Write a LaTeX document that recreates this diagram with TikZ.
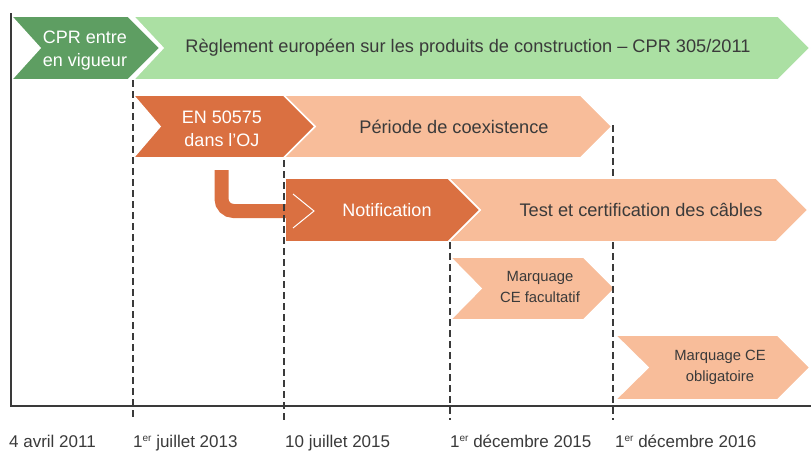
\documentclass[tikz,border=0pt]{standalone}
\usepackage{fontspec}
\setmainfont{Liberation Sans}
\definecolor{dgreen}{HTML}{5E9E62}
\definecolor{lgreen}{HTML}{ABE0A3}
\definecolor{dorange}{HTML}{DA7041}
\definecolor{lorange}{HTML}{F8BD9A}
\definecolor{ink}{HTML}{3A3A3A}
\newcommand\ordsup{\raisebox{0.32em}{\fontsize{10}{10}\selectfont er}}
\newcommand\chevron[6]{% xleft, xright(tip), ytop, ybottom, notch depth, fill
  \pgfmathsetmacro\cmid{(#3+#4)/2}%
  \pgfmathsetmacro\cd{(#4-#3)/2}%
  \fill[#6, draw=white, line width=1.6pt, line join=miter]
    (#1,#3) -- (#2-\cd,#3) -- (#2,\cmid) -- (#2-\cd,#4) -- (#1,#4) -- (#1+#5,\cmid) -- cycle;}
\begin{document}
\begin{tikzpicture}[x=1pt,y=-1pt,
  wlab/.style={text=white, align=center, font=\fontsize{18}{23}\selectfont},
  dlab/.style={text=ink, align=center, font=\fontsize{18.2}{23}\selectfont},
  slab/.style={text=ink, align=center, font=\fontsize{14.8}{21}\selectfont},
  datelab/.style={text=ink, anchor=base west, inner sep=0pt, font=\fontsize{17}{20}\selectfont},
  axis/.style={ink, line width=1.3pt},
  guide/.style={ink, line width=1.3pt, dash pattern=on 6.5pt off 4.5pt}]
\useasboundingbox (0,0) rectangle (811,453);
% boxes
\chevron{133}{810}{16}{80}{30}{lgreen}
\chevron{11}{160}{16}{80}{29}{dgreen}
\chevron{283}{612}{95}{158}{32}{lorange}
\chevron{133}{315}{95}{158}{27}{dorange}
\chevron{448}{808}{178}{242}{32}{lorange}
\chevron{285}{480}{178}{242}{0}{dorange}
\chevron{450}{615}{257}{320}{31}{lorange}
\chevron{615}{810}{335}{400}{33}{lorange}
% curved arrow
\draw[dorange, line width=14pt, rounded corners=12pt] (221.5,170) -- (221.5,211) -- (294,211);
\fill[dorange] (293,194) -- (314,211) -- (293,228) -- cycle;
\draw[white, line width=1pt] (293,194) -- (314,211) -- (293,228);
% axes
\draw[axis] (11,13) -- (11,406) -- (811,406);
% guides
\draw[guide] (133,80) -- (133,420);
\draw[guide] (284,160) -- (284,420);
\draw[guide] (450,242) -- (450,420);
\draw[guide] (613,125) -- (613,178);
\draw[guide] (613,242) -- (613,420);
% labels
\node[wlab] (cpr) at (85,51) {CPR entre\\en vigueur};
\node[dlab] (reg) at (468,48) {Règlement européen sur les produits de construction – CPR 305/2011};
\node[wlab] (en) at (222,129) {EN 50575\\dans l’OJ};
\node[dlab] (coex) at (454,127) {Période de coexistence};
\node[wlab] (notif) at (387,210) {Notification};
\node[dlab] (test) at (641,210) {Test et certification des câbles};
\node[slab] (fac) at (540,287) {Marquage\\CE facultatif};
\node[slab] (obl) at (720,367) {Marquage CE\\obligatoire};
% dates
\node[datelab] (d1) at (9,447) {4 avril 2011};
\node[datelab] (d2) at (133,447) {1\ordsup{} juillet 2013};
\node[datelab] (d3) at (285,447) {10 juillet 2015};
\node[datelab] (d4) at (450,447) {1\ordsup{} décembre 2015};
\node[datelab] (d5) at (615,447) {1\ordsup{} décembre 2016};
\end{tikzpicture}
\end{document}
